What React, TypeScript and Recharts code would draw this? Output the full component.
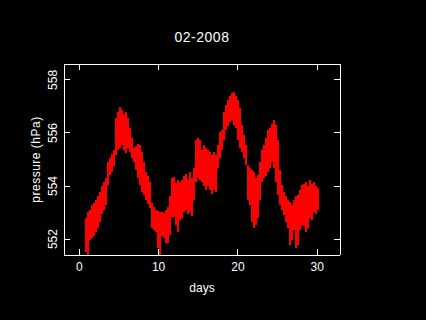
import React from 'react';
import { ComposedChart, Bar, XAxis, YAxis, Label } from 'recharts';

const days = [0.84,1.10,1.35,1.60,1.85,2.11,2.36,2.61,2.86,3.11,3.37,3.62,3.87,4.12,4.38,4.63,4.88,5.13,5.38,5.64,5.89,6.14,6.39,6.65,6.90,7.15,7.40,7.65,7.91,8.16,8.41,8.66,8.92,9.17,9.42,9.67,9.92,10.18,10.43,10.68,10.93,11.19,11.44,11.69,11.94,12.19,12.45,12.70,12.95,13.20,13.46,13.71,13.96,14.21,14.46,14.72,14.97,15.22,15.47,15.73,15.98,16.23,16.48,16.73,16.99,17.24,17.49,17.74,18.00,18.25,18.50,18.75,19.00,19.26,19.51,19.76,20.01,20.26,20.52,20.77,21.02,21.27,21.53,21.78,22.03,22.28,22.53,22.79,23.04,23.29,23.54,23.80,24.05,24.30,24.55,24.80,25.06,25.31,25.56,25.81,26.07,26.32,26.57,26.82,27.07,27.33,27.58,27.83,28.08,28.34,28.59,28.84,29.09,29.35,29.60,29.85,30.10];

const high = [552.79,553.02,553.09,553.28,553.36,553.47,553.62,553.77,554.00,554.15,
554.30,554.91,555.06,555.21,555.36,556.57,556.79,556.98,556.87,556.72,
556.79,556.57,556.19,555.81,555.43,555.51,555.58,555.55,555.28,554.91,
554.53,554.38,554.15,553.36,553.21,553.09,553.06,553.02,553.02,552.98,
553.09,553.21,553.62,554.30,554.34,554.11,554.23,554.15,554.23,554.38,
554.45,554.23,554.53,554.30,554.68,555.74,555.81,555.74,555.36,555.55,
555.43,555.36,555.28,555.17,555.28,555.17,555.55,556.04,556.11,556.79,
557.06,557.25,557.40,557.51,557.55,557.40,557.25,556.94,556.30,555.92,
555.55,554.79,554.68,554.60,554.53,554.30,554.42,554.91,555.36,555.55,
555.81,556.11,556.19,556.34,556.49,556.30,555.74,554.60,554.04,553.77,
553.62,553.47,553.40,553.28,553.47,553.62,553.66,553.85,554.04,554.08,
554.15,554.00,554.23,554.08,554.15,554.00,553.92];

const low = [551.51,551.40,551.96,552.04,552.11,552.26,552.42,552.64,552.94,553.09,
553.28,554.04,554.42,554.53,554.75,555.17,555.36,555.43,555.55,555.36,
555.25,555.43,555.28,555.06,554.91,554.60,554.30,554.04,553.77,553.66,
553.47,553.32,553.17,552.42,552.34,552.26,551.66,551.40,552.11,552.04,
551.85,551.85,552.15,552.83,552.83,552.53,552.26,552.72,552.79,553.02,
553.09,552.94,553.02,552.87,553.47,554.15,554.30,554.23,554.15,554.00,
553.85,554.00,553.85,553.70,553.85,553.77,554.68,555.06,555.36,555.74,
556.11,556.26,556.42,556.49,556.30,556.19,555.74,555.43,555.28,555.06,
554.79,553.47,553.28,552.64,552.42,552.53,552.79,553.47,554.15,554.30,
554.38,554.53,554.68,554.91,554.68,554.15,553.66,553.28,553.09,552.91,
552.64,552.42,551.77,551.96,552.34,551.66,551.77,552.34,552.53,552.49,
552.26,552.42,552.79,552.72,553.02,552.94,553.09];

const xTicks = [0, 10, 20, 30];
const yTicks = [552, 554, 556, 558];
const xDomain = [-1.93, 32.87];
const yDomain = [551.4, 558.6];
const title = '02-2008';
const xLabel = 'days';
const yLabel = 'pressure (hPa)';

const data = days.map((d, i) => ({ day: d, range: [low[i], high[i]] }));

const FONT = '"Liberation Sans", Arial, Helvetica, sans-serif';
const TL = 6;
const WHITE = '#ffffff';

const BottomTick = (p: any) => (
  <g>
    <line x1={p.x} y1={p.y} x2={p.x} y2={p.y - TL} stroke={WHITE} shapeRendering="crispEdges" />
    <text x={p.x} y={p.y + 16} fill={WHITE} textAnchor="middle" fontSize={12} fontFamily={FONT}>
      {p.payload.value}
    </text>
  </g>
);

const TopTick = (p: any) => (
  <line x1={p.x} y1={p.y} x2={p.x} y2={p.y + TL} stroke={WHITE} shapeRendering="crispEdges" />
);

const LeftTick = (p: any) => (
  <g>
    <line x1={p.x} y1={p.y} x2={p.x + TL} y2={p.y} stroke={WHITE} shapeRendering="crispEdges" />
    <text
      x={p.x - 7}
      y={p.y}
      transform={`rotate(-90 ${p.x - 7} ${p.y})`}
      fill={WHITE}
      textAnchor="middle"
      fontSize={12}
      fontFamily={FONT}
    >
      {p.payload.value}
    </text>
  </g>
);

const RightTick = (p: any) => (
  <line x1={p.x} y1={p.y} x2={p.x - TL} y2={p.y} stroke={WHITE} shapeRendering="crispEdges" />
);

const axisLine = { stroke: WHITE, strokeWidth: 1, shapeRendering: 'crispEdges' } as any;

export default function App() {
  return (
    <div style={{ position: 'absolute', left: 0, top: 0, width: 426, height: 320, background: '#000' }}>
      <ComposedChart
        width={426}
        height={320}
        data={data}
        margin={{ top: 63, left: 63, right: 85, bottom: 64 }}
      >
        <XAxis
          xAxisId="b"
          dataKey="day"
          type="number"
          domain={xDomain}
          ticks={xTicks}
          allowDataOverflow
          height={1}
          tickSize={0}
          tickMargin={0}
          tickLine={false}
          axisLine={axisLine}
          tick={BottomTick}
          interval={0}
        >
          <Label
            content={(props: any) => {
              const vb = props.viewBox || {};
              return (
                <text x={vb.x + vb.width / 2} y={vb.y + 37} fill={WHITE} textAnchor="middle" fontSize={12} fontFamily={FONT}>
                  {xLabel}
                </text>
              );
            }}
          />
        </XAxis>
        <XAxis
          xAxisId="t"
          dataKey="day"
          type="number"
          orientation="top"
          domain={xDomain}
          ticks={xTicks}
          allowDataOverflow
          height={1}
          tickSize={0}
          tickMargin={0}
          tickLine={false}
          axisLine={axisLine}
          tick={TopTick}
          interval={0}
        >
          <Label
            content={(props: any) => {
              const vb = props.viewBox || {};
              return (
                <text x={vb.x + vb.width / 2} y={vb.y + vb.height - 22} fill={WHITE} textAnchor="middle" fontSize={14} letterSpacing={0.5} fontFamily={FONT}>
                  {title}
                </text>
              );
            }}
          />
        </XAxis>
        <YAxis
          yAxisId="l"
          type="number"
          domain={yDomain}
          ticks={yTicks}
          allowDataOverflow
          width={1}
          tickSize={0}
          tickMargin={0}
          tickLine={false}
          axisLine={axisLine}
          tick={LeftTick}
          interval={0}
        >
          <Label
            content={(props: any) => {
              const vb = props.viewBox || {};
              const cx = vb.x + vb.width - 24;
              const cy = vb.y + vb.height / 2;
              return (
                <text x={cx} y={cy} transform={`rotate(-90 ${cx} ${cy})`} fill={WHITE} textAnchor="middle" fontSize={12} letterSpacing={0.5} fontFamily={FONT}>
                  {yLabel}
                </text>
              );
            }}
          />
        </YAxis>
        <YAxis
          yAxisId="r"
          type="number"
          orientation="right"
          domain={yDomain}
          ticks={yTicks}
          allowDataOverflow
          width={1}
          tickSize={0}
          tickMargin={0}
          tickLine={false}
          axisLine={axisLine}
          tick={RightTick}
          interval={0}
        />
        <Bar
          xAxisId="b"
          yAxisId="l"
          dataKey="range"
          fill="#ff0000"
          barSize={2}
          shapeRendering="crispEdges"
          isAnimationActive={false}
        />
      </ComposedChart>
    </div>
  );
}
